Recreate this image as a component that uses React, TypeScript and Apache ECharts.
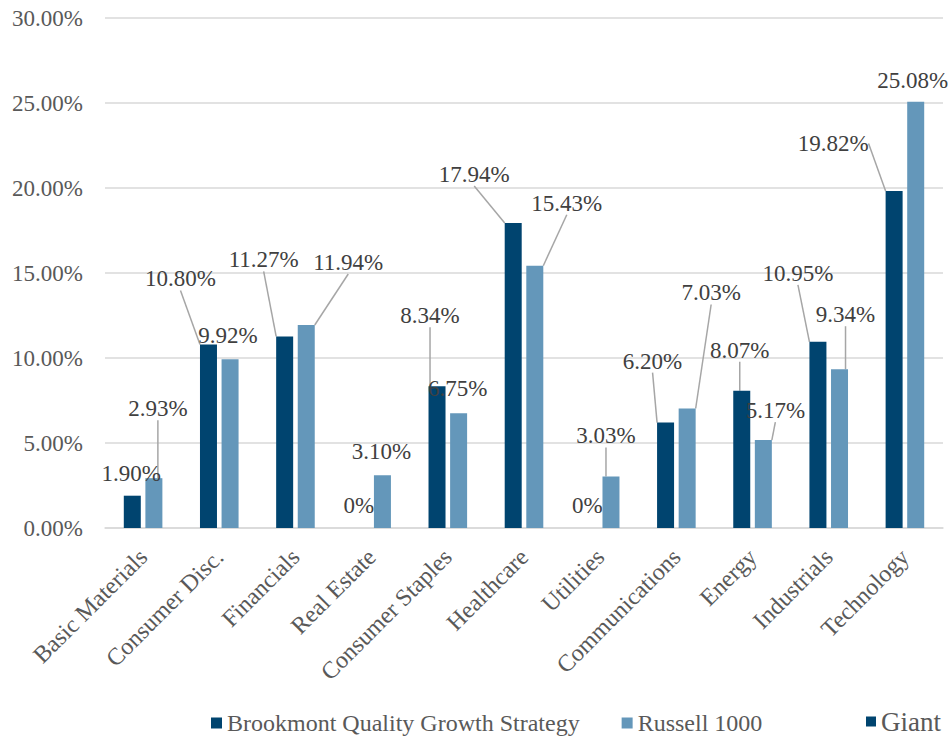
import React, { useEffect, useRef } from "react";
import * as echarts from "echarts";

const categories = [
  "Basic Materials",
  "Consumer Disc.",
  "Financials",
  "Real Estate",
  "Consumer Staples",
  "Healthcare",
  "Utilities",
  "Communications",
  "Energy",
  "Industrials",
  "Technology",
];

const seriesNames = ["Brookmont Quality Growth Strategy", "Russell 1000", "Giant"];

const brookmont = [1.9, 10.8, 11.27, 0, 8.34, 17.94, 0, 6.2, 8.07, 10.95, 19.82];
const russell = [2.93, 9.92, 11.94, 3.1, 6.75, 15.43, 3.03, 7.03, 5.17, 9.34, 25.08];

const yTicks = { min: 0, max: 30, interval: 5 };

// label placement (offsets from default "top" label position), leader line flags
const shiftDark: [number, number][] = [
  [-1, -6], [-28, -49], [-21, -60], [-2, -6], [-7, -54], [-39, -32],
  [-2, -6], [-13, -45], [-2, -24], [-20, -52], [-61, -31],
];
const shiftLight: [number, number][] = [
  [4, -53], [-2, -7], [42, -46], [-1, -7], [-1, -8], [32, -46],
  [-5, -24], [24, -99], [12, -13], [6, -38], [-3, -5],
];
const lineDark = [false, true, true, false, true, true, false, true, true, true, true];
const lineLight = [true, false, true, false, false, true, true, true, true, true, false];

const FONT = "Liberation Serif";
const DARK = "#00446F";
const LIGHT = "#6497BA";

const fmt = (v: number) => (v === 0 ? "0%" : v.toFixed(2) + "%");

export default function App() {
  const ref = useRef<HTMLDivElement>(null);

  useEffect(() => {
    document.body.style.margin = "0";
    if (!ref.current) return;
    const chart = echarts.init(ref.current, undefined, { renderer: "svg" });

    const makeBar = (name: string, values: number[], color: string, shifts: [number, number][], lines: boolean[]) => ({
      name,
      type: "bar",
      barWidth: 17,
      barGap: "27%",
      itemStyle: { color },
      data: values.map((v, i) => ({ value: v, labelLine: { show: lines[i] } })),
      label: {
        show: true,
        position: "top",
        distance: 5,
        fontFamily: FONT,
        fontSize: 23,
        color: "#404040",
        formatter: (p: any) => fmt(p.value),
      },
      labelLine: {
        show: true,
        lineStyle: { color: "#A6A6A6", width: 1.5 },
      },
      labelLayout: (p: any) => ({ dx: shifts[p.dataIndex][0], dy: shifts[p.dataIndex][1] }),
    });

    chart.setOption({
      animation: false,
      textStyle: { fontFamily: FONT },
      grid: { left: 105, right: 5, top: 18, bottom: 208, containLabel: false },
      legend: [
        {
          data: [seriesNames[0], seriesNames[1]],
          left: 211,
          top: 711,
          icon: "rect",
          itemWidth: 11,
          itemHeight: 11,
          itemGap: 42,
          padding: 0,
          textStyle: { fontFamily: FONT, fontSize: 24, color: "#595959" },
          selectedMode: false,
        },
        {
          data: [seriesNames[2]],
          left: 866,
          top: 708,
          icon: "rect",
          itemWidth: 10,
          itemHeight: 10,
          padding: 0,
          textStyle: { fontFamily: FONT, fontSize: 27, color: "#595959" },
          selectedMode: false,
        },
      ],
      xAxis: {
        type: "category",
        data: categories,
        axisLine: { lineStyle: { color: "#D9D9D9", width: 1.5 } },
        axisTick: { show: false },
        axisLabel: {
          interval: 0,
          rotate: 45,
          margin: 25,
          fontFamily: FONT,
          fontSize: 24,
          color: "#595959",
        },
      },
      yAxis: {
        type: "value",
        min: yTicks.min,
        max: yTicks.max,
        interval: yTicks.interval,
        axisLine: { show: false },
        axisTick: { show: false },
        splitLine: { lineStyle: { color: "#D9D9D9", width: 1.5 } },
        axisLabel: {
          margin: 22,
          fontFamily: FONT,
          fontSize: 23,
          color: "#595959",
          formatter: (v: number) => v.toFixed(2) + "%",
        },
      },
      series: [
        makeBar(seriesNames[0], brookmont, DARK, shiftDark, lineDark),
        makeBar(seriesNames[1], russell, LIGHT, shiftLight, lineLight),
        { name: seriesNames[2], type: "line", data: [], itemStyle: { color: DARK }, lineStyle: { color: DARK } },
      ],
    });

    return () => chart.dispose();
  }, []);

  return <div ref={ref} style={{ width: 948, height: 736 }} />;
}
